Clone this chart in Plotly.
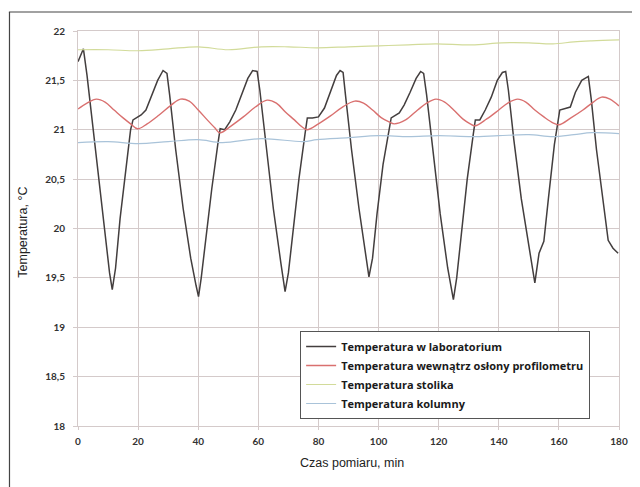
import plotly.graph_objects as go

# --- data ---
lab_x = [0, 1, 1.8, 3, 5, 7, 9, 10.5, 11.4, 12.5, 14, 16, 17.5, 18.3, 19.8, 21, 22.6, 24.5, 26.5, 28.3, 29.6,
         30.5, 32.5, 35, 37.5, 39.3, 40.1, 41, 42.5, 44.5, 46.5, 47.3, 48.8, 50.5, 52.5, 54.5, 56.5, 58.1, 59.6,
         60.5, 62.5, 65, 67.5, 68.9, 70, 71.5, 73.5, 75.5, 76.3, 78, 80, 82, 84, 86, 87.2, 88.2,
         89, 91, 93.5, 95.5, 96.8, 98, 99.5, 101.5, 103.5, 104.2, 106.9, 108.5, 110.5, 112.5, 114, 115,
         116, 118, 120.5, 123, 124.9, 126, 127.5, 129.5, 131.5, 132.2, 133.7, 135.5, 137.5, 139.5, 141.2, 142.3,
         143.2, 145, 147.5, 150, 152, 153.4, 155, 156.5, 158.5, 160.3, 163.8, 165.5, 167.6, 169.8,
         170.8, 172.5, 174.5, 176.4, 178, 179.7]
lab_y = [21.69, 21.76, 21.82, 21.55, 21.0, 20.45, 19.9, 19.55, 19.38, 19.6, 20.1, 20.6, 21.0, 21.1, 21.13, 21.15, 21.2, 21.35, 21.5, 21.6, 21.57,
         21.35, 20.8, 20.2, 19.7, 19.42, 19.31, 19.5, 19.9, 20.4, 20.85, 21.01, 21.0, 21.08, 21.2, 21.35, 21.52, 21.6, 21.59,
         21.4, 20.85, 20.2, 19.65, 19.36, 19.55, 19.95, 20.5, 20.95, 21.12, 21.12, 21.13, 21.22, 21.38, 21.55, 21.6, 21.58,
         21.35, 20.8, 20.2, 19.75, 19.51, 19.7, 20.15, 20.65, 21.0, 21.12, 21.17, 21.25, 21.38, 21.52, 21.59, 21.57,
         21.35, 20.8, 20.15, 19.6, 19.28, 19.5, 19.95, 20.5, 20.95, 21.1, 21.1, 21.2, 21.33, 21.5, 21.58, 21.59,
         21.4, 20.9, 20.3, 19.8, 19.45, 19.75, 19.87, 20.3, 20.85, 21.2, 21.23, 21.38, 21.5, 21.54,
         21.3, 20.8, 20.3, 19.88, 19.8, 19.75]

prof_x = [0, 3, 6.1, 9, 12, 15, 17.5, 19.8, 23, 27, 31, 34.1, 37, 40, 43, 45.5, 47.2, 51, 55, 59, 62.9,
          66, 69, 72, 74.5, 76.2, 80, 84, 88, 92.1, 95, 98, 101, 103.5, 105.2, 109, 113, 116, 119.1,
          122, 125, 128, 130.5, 132.1, 136, 140, 143, 146.3, 149, 152, 155, 158, 160, 164, 168, 171, 174.2, 177, 180]
prof_y = [21.21, 21.27, 21.31, 21.28, 21.2, 21.12, 21.06, 21.01, 21.06, 21.15, 21.25, 21.31, 21.29, 21.2, 21.1, 21.02, 20.97, 21.04, 21.13, 21.23, 21.3,
          21.27, 21.18, 21.1, 21.03, 21.0, 21.06, 21.14, 21.23, 21.29, 21.27, 21.2, 21.12, 21.08, 21.06, 21.1, 21.2, 21.27, 21.31,
          21.28, 21.2, 21.11, 21.06, 21.04, 21.11, 21.2, 21.27, 21.31, 21.28, 21.2, 21.13, 21.07, 21.05, 21.12, 21.2, 21.27, 21.33, 21.31, 21.24]

stol_x = [0, 10, 20, 30, 40, 50, 61, 70, 79.5, 90, 100, 110, 119, 131, 141, 150, 158, 165, 171, 180]
stol_y = [21.81, 21.81, 21.8, 21.82, 21.84, 21.81, 21.84, 21.84, 21.83, 21.84, 21.85, 21.86, 21.87, 21.86, 21.88, 21.88, 21.87, 21.89, 21.9, 21.91]

kol_x = [0, 10, 20, 30, 40, 48, 61, 75, 79.5, 90, 100, 110, 120, 131, 140, 150, 158, 165, 171, 180]
kol_y = [20.87, 20.88, 20.86, 20.88, 20.9, 20.87, 20.91, 20.88, 20.9, 20.92, 20.94, 20.93, 20.94, 20.93, 20.94, 20.95, 20.93, 20.95, 20.97, 20.96]

series_names = ["Temperatura w laboratorium", "Temperatura wewnątrz osłony profilometru",
                "Temperatura stolika", "Temperatura kolumny"]

x_ticks = [0, 20, 40, 60, 80, 100, 120, 140, 160, 180]
y_ticks = [18, 18.5, 19, 19.5, 20, 20.5, 21, 21.5, 22]
y_tick_labels = ["18", "18,5", "19", "19,5", "20", "20,5", "21", "21,5", "22"]

fig = go.Figure()
fig.add_trace(go.Scatter(x=lab_x, y=lab_y, mode="lines", name=series_names[0],
                         line=dict(color="#433e3e", width=1.5)))
fig.add_trace(go.Scatter(x=prof_x, y=prof_y, mode="lines", name=series_names[1], line_shape="spline",
                         line=dict(color="#d9706f", width=1.4)))
fig.add_trace(go.Scatter(x=stol_x, y=stol_y, mode="lines", name=series_names[2], line_shape="spline",
                         line=dict(color="#d2db9a", width=1.2)))
fig.add_trace(go.Scatter(x=kol_x, y=kol_y, mode="lines", name=series_names[3], line_shape="spline",
                         line=dict(color="#a9c3d9", width=1.2)))

# page body has an 8px margin -> figure origin is at screen (8, 8)
W, H = 632, 479
L, T, R, B = 70, 23, 14, 61
pw, ph = W - L - R, H - T - B


def px(sx):
    return (sx - 8 - L) / pw


def py(sy):
    return (H - B - (sy - 8)) / ph


grid = "#d4caca"
tick_font = dict(family="Lato", size=10, color="#333", weight="bold")
fig.update_layout(
    width=W, height=H,
    margin=dict(l=L, r=R, t=T, b=B),
    paper_bgcolor="white", plot_bgcolor="white",
    showlegend=True,
    legend=dict(x=px(303), y=py(331), xanchor="left", yanchor="top",
                bgcolor="white", bordercolor="#555555", borderwidth=1,
                font=dict(family="Open Sans", size=11, color="#1a1a1a", weight="bold"),
                tracegroupgap=0, itemwidth=30),
    xaxis=dict(range=[0, 180], tickvals=x_ticks, showgrid=True, gridcolor=grid, gridwidth=1,
               zeroline=False, showline=True, linecolor=grid, mirror=True,
               ticks="outside", ticklen=3, tickcolor=grid, ticklabelstandoff=3,
               tickfont=tick_font),
    yaxis=dict(range=[18, 22], tickvals=y_ticks, ticktext=y_tick_labels, showgrid=True, gridcolor=grid,
               gridwidth=1, zeroline=False, showline=True, linecolor=grid, mirror=True,
               ticks="outside", ticklen=4, tickcolor=grid, ticklabelstandoff=6,
               tickfont=tick_font),
    annotations=[
        dict(text="Czas pomiaru, min", xref="paper", yref="paper", x=px(356), y=py(463),
             showarrow=False, xanchor="center", yanchor="middle",
             font=dict(family="Liberation Sans", size=12.5, color="#222")),
        dict(text="Temperatura, °C", xref="paper", yref="paper", x=px(22), y=py(232),
             showarrow=False, xanchor="center", yanchor="middle", textangle=-90,
             font=dict(family="Liberation Sans", size=12.5, color="#222")),
    ],
    shapes=[
        dict(type="line", xref="paper", yref="paper", x0=px(8.6), x1=px(8.6),
             y0=py(12), y1=py(490), line=dict(color="#444", width=1.2)),
        dict(type="line", xref="paper", yref="paper", x0=px(8), x1=px(642),
             y0=py(12), y1=py(12), line=dict(color="#444", width=1.2)),
    ],
)

fig.write_html("out.html")
